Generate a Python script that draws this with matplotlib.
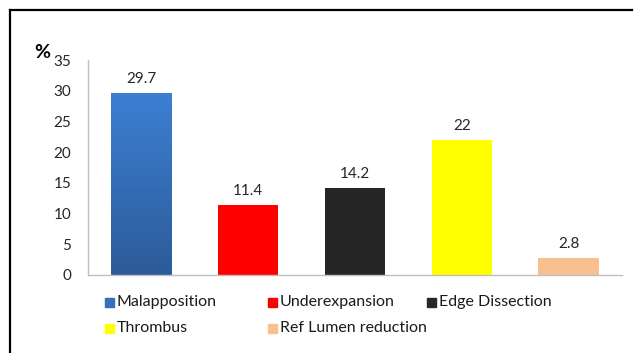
import numpy as np
import matplotlib
matplotlib.use('Agg')
import matplotlib.pyplot as plt
from matplotlib.patches import Rectangle
from matplotlib.lines import Line2D
from matplotlib.colors import LinearSegmentedColormap

plt.rcParams['font.family'] = ['Lato', 'DejaVu Sans']

categories = ['Malapposition', 'Underexpansion', 'Edge Dissection', 'Thrombus', 'Ref Lumen reduction']
values = [29.7, 11.4, 14.2, 22, 2.8]
labels = ['29.7', '11.4', '14.2', '22', '2.8']
colors = ['#3470BB', '#FF0000', '#262626', '#FFFF00', '#FABF8F']
yticks = [0, 5, 10, 15, 20, 25, 30, 35]

W, H = 637, 353
fig = plt.figure(figsize=(W / 100, H / 100), dpi=100)

def px(x, y):
    # pixel coords (from top-left) to figure fraction
    return x / W, 1 - y / H

# outer frame: top and left only
fig.add_artist(Line2D([10 / W, 632 / W], [1 - 10 / H, 1 - 10 / H], color='black', lw=1.6,
                      transform=fig.transFigure))
fig.add_artist(Line2D([10 / W, 10 / W], [1 - 10 / H, 0], color='black', lw=1.6,
                      transform=fig.transFigure))

ax = fig.add_axes([88 / W, 1 - 275 / H, 534 / W, 215 / H])
x = np.arange(len(categories))
bars = ax.bar(x, values, width=0.565, color=colors)

# gradient on the first bar
cmap = LinearSegmentedColormap.from_list('blu', ['#2D5B9A', '#3C7FD2'])
b0 = bars[0]
grad = np.linspace(0, 1, 256).reshape(-1, 1)
im = ax.imshow(grad, cmap=cmap, origin='lower', aspect='auto',
               extent=[b0.get_x(), b0.get_x() + b0.get_width(), 0, b0.get_height()], zorder=2)
im.set_clip_path(b0)

ax.set_xlim(-0.5, len(categories) - 0.5)
ax.set_ylim(0, 35)
ax.set_yticks(yticks)
ax.set_xticks([])
ax.tick_params(axis='y', length=0, pad=12, labelsize=11, colors='#262626')
for s in ['top', 'right']:
    ax.spines[s].set_visible(False)
for s in ['left', 'bottom']:
    ax.spines[s].set_color('#BFBFBF')
    ax.spines[s].set_linewidth(1)

for xi, v, lab in zip(x, values, labels):
    ax.annotate(lab, (xi, v), xytext=(0, 5), textcoords='offset points',
                ha='center', va='bottom', fontsize=11, color='#262626')

fig.text(*px(34, 52), '%', fontsize=14, fontweight='bold', ha='left', va='center')

# legend laid out like the original (two rows)
leg_pos = [(105, 302), (268, 302), (427, 302), (105, 328), (268, 328)]
for (lx, ly), name, c in zip(leg_pos, categories, colors):
    fx, fy = px(lx, ly + 4.5)
    fig.add_artist(Rectangle((fx, fy), 9 / W, 9 / H, color=c, transform=fig.transFigure))
    fig.text(*px(lx + 12, ly), name, fontsize=11.5, ha='left', va='center', color='#1a1a1a')

fig.savefig('out.png', dpi=100)
